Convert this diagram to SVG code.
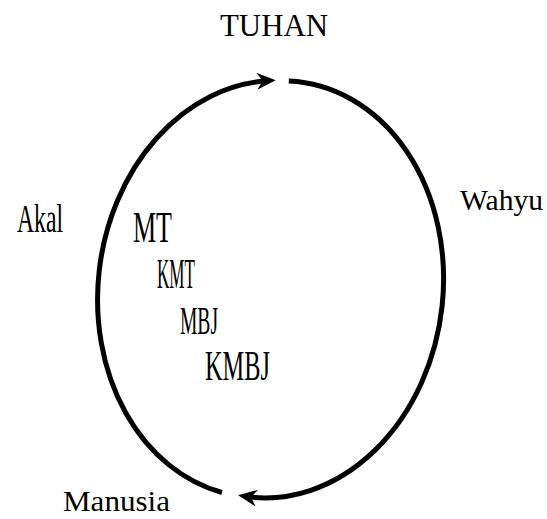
<svg xmlns="http://www.w3.org/2000/svg" width="547" height="519" viewBox="0 0 547 519">
  <style>
    .lbl { font-family: "Liberation Serif", "Times New Roman", serif; fill: #000; }
    .arc { fill: none; stroke: #000; stroke-width: 5; stroke-linecap: butt; }
  </style>
  <defs>
    <marker id="arrow" markerUnits="userSpaceOnUse" orient="auto" refX="0" refY="0" markerWidth="30" markerHeight="30" overflow="visible">
      <path d="M7,0 L-12,-8.5 L-6,0 L-12,8.5 Z" fill="#000"/>
    </marker>
  </defs>
  <rect width="547" height="519" fill="#fff"/>
  <g id="connectors">
    <path id="arc-akal" class="arc" d="M 222 492.5 A 169 209 7 0 1 268.8 80.7" marker-end="url(#arrow)"/>
    <path id="arc-wahyu" class="arc" d="M 288.8 81.1 A 169 209 7 1 1 245 496.4" marker-end="url(#arrow)"/>
  </g>
  <g id="tuhan"><text class="lbl" x="220" y="36" font-size="31" textLength="108" lengthAdjust="spacingAndGlyphs">TUHAN</text></g>
  <g id="manusia"><text class="lbl" x="63" y="511" font-size="30" textLength="107" lengthAdjust="spacingAndGlyphs">Manusia</text></g>
  <g id="akal"><text class="lbl" x="17" y="232" font-size="40" textLength="46" lengthAdjust="spacingAndGlyphs">Akal</text></g>
  <g id="wahyu"><text class="lbl" x="460" y="210" font-size="29" textLength="83" lengthAdjust="spacingAndGlyphs">Wahyu</text></g>
  <g id="mt"><text class="lbl" x="133" y="242" font-size="45" textLength="39" lengthAdjust="spacingAndGlyphs">MT</text></g>
  <g id="kmt"><text class="lbl" x="157" y="288" font-size="42" textLength="38" lengthAdjust="spacingAndGlyphs">KMT</text></g>
  <g id="mbj"><text class="lbl" x="180" y="334" font-size="41" textLength="38" lengthAdjust="spacingAndGlyphs">MBJ</text></g>
  <g id="kmbj"><text class="lbl" x="205" y="380" font-size="42" textLength="65" lengthAdjust="spacingAndGlyphs">KMBJ</text></g>
</svg>
